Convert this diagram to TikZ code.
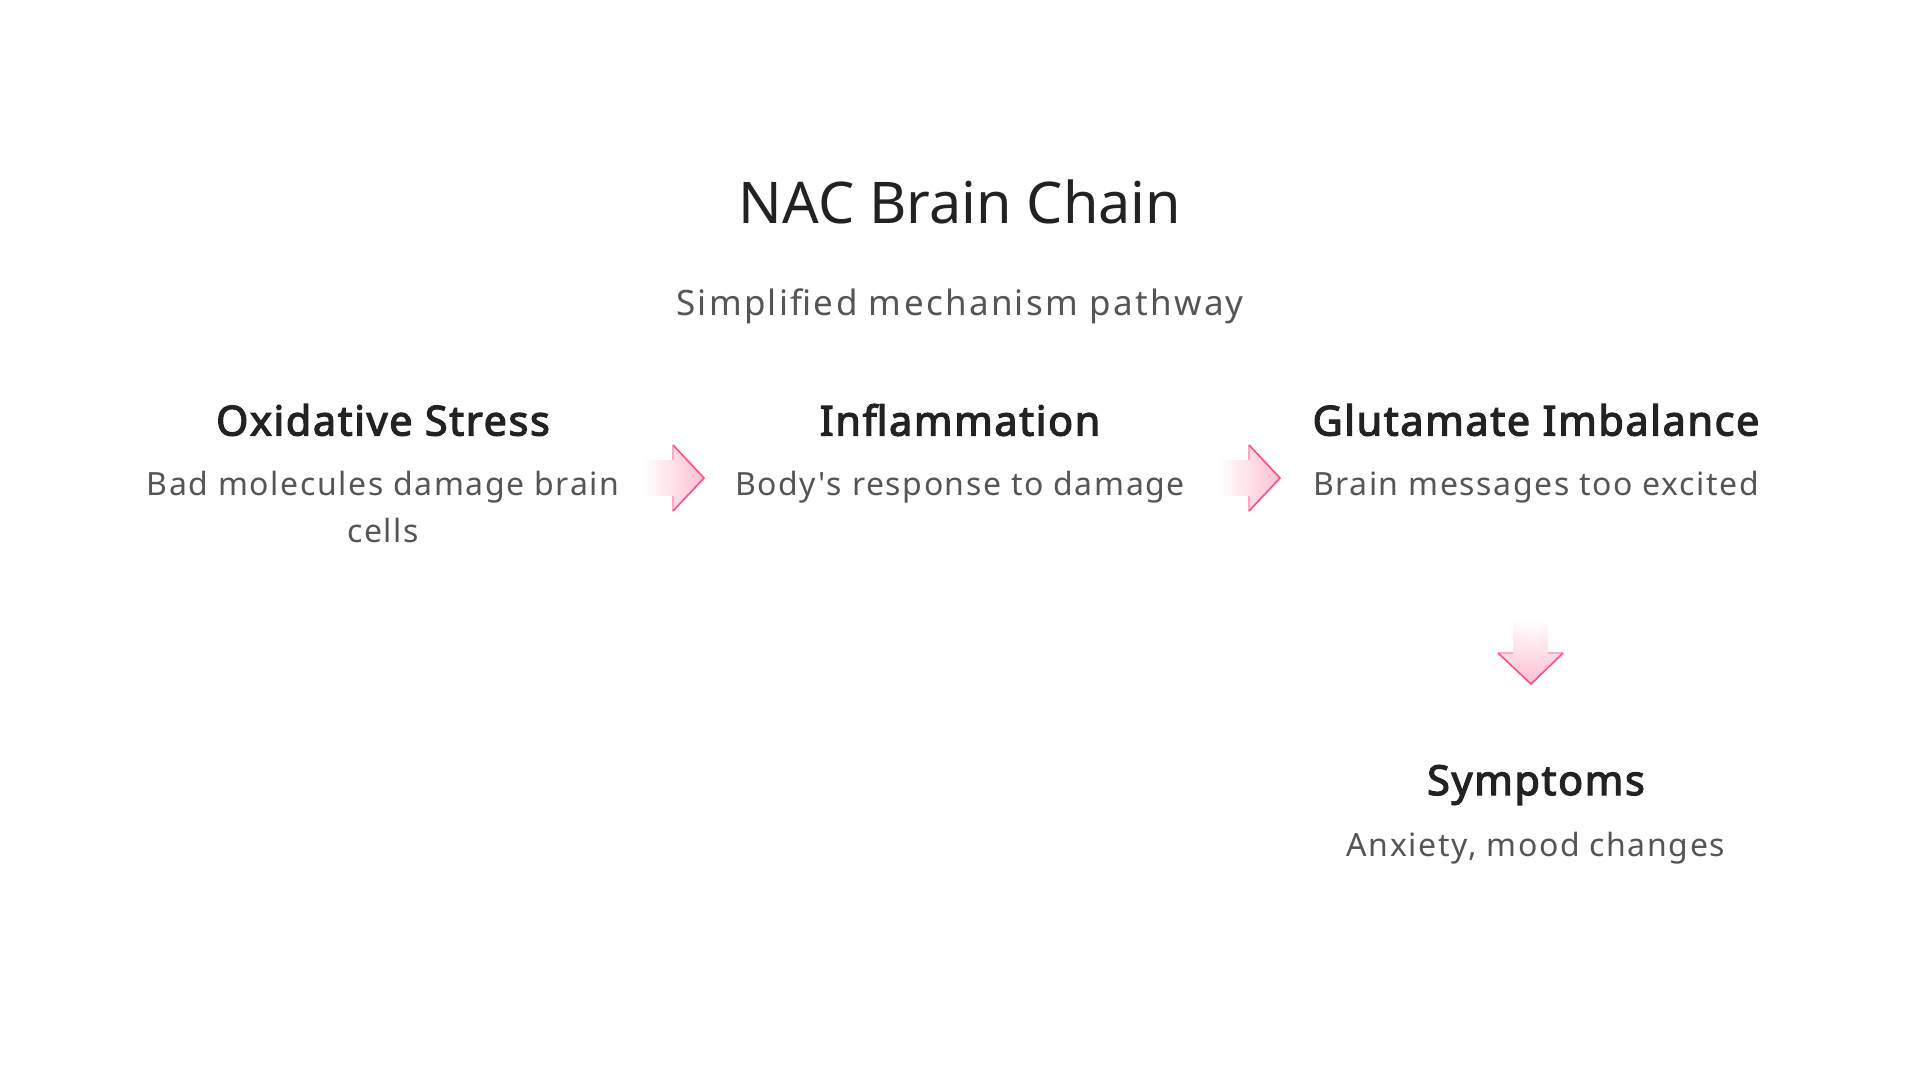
\documentclass[tikz,border=0pt]{standalone}
\usepackage{fontspec}
\setmainfont{Noto Sans}
\newfontfamily\subfont{Noto Sans}[LetterSpace=6.6]
\newfontfamily\descfont{Noto Sans}[LetterSpace=5]
\newfontfamily\headfont{Noto Sans}[FakeBold=3,LetterSpace=4]
\usetikzlibrary{calc}
\definecolor{headc}{HTML}{222222}
\definecolor{descc}{HTML}{555555}
\definecolor{arrfill}{HTML}{FFBFCF}
\definecolor{arredge}{HTML}{FF4F80}
\tikzset{
  x=1pt,y=1pt,
  titletxt/.style={inner sep=0pt,text=headc,font=\fontsize{57.5}{66}\selectfont},
  subtxt/.style={inner sep=0pt,text=descc,font=\subfont\fontsize{35}{40}\selectfont},
  headtxt/.style={inner sep=0pt,text=headc,font=\headfont\fontsize{41.3}{48}\selectfont},
  desctxt/.style={inner sep=0pt,text=descc,align=center,font=\descfont\fontsize{32}{47}\selectfont},
  arrshade/.style={left color=white,right color=arrfill,draw=none},
  arrshadev/.style={top color=white,bottom color=arrfill,draw=none},
  arredgeln/.style={draw=arredge,line width=1.6pt,line join=miter},
}
\newcommand{\rarrow}[1]{%
  \path[arrshade] ($(#1)+(-61,-18)$) -- ($(#1)+(-31,-18)$) -- ($(#1)+(-31,-33)$) -- (#1)
     -- ($(#1)+(-31,33)$) -- ($(#1)+(-31,18)$) -- ($(#1)+(-61,18)$) -- cycle;
  \draw[draw=arrfill!80!arredge,line width=1.2pt] ($(#1)+(-31,-18)$) -- ($(#1)+(-31,-33)$);
  \draw[draw=arrfill!80!arredge,line width=1.2pt] ($(#1)+(-31,18)$) -- ($(#1)+(-31,33)$);
  \draw[arredgeln] ($(#1)+(-31,-33)$) -- (#1) -- ($(#1)+(-31,33)$);
}
\begin{document}
\begin{tikzpicture}
\useasboundingbox[fill=white] (0,0) rectangle (1920,-1080);
\node[titletxt] (title) at (960,-202) {NAC Brain Chain};
\node[subtxt] (sub) at (960,-306) {Simplified mechanism pathway};

\node[headtxt] (h1) at (383,-420) {Oxidative Stress};
\node[desctxt,anchor=north] (d1) at (383,-471) {Bad molecules damage brain\\cells};
\node[headtxt] (h2) at (960,-420) {Inflammation};
\node[desctxt,anchor=north] (d2) at (960,-471) {Body's response to damage};
\node[headtxt] (h3) at (1536,-420) {Glutamate Imbalance};
\node[desctxt,anchor=north] (d3) at (1536,-471) {Brain messages too excited};
\node[headtxt] (h4) at (1536,-785) {Symptoms};
\node[desctxt,anchor=north] (d4) at (1536,-832) {Anxiety, mood changes};

\coordinate (t1) at (704,-478);
\coordinate (t2) at (1280,-478);
\coordinate (t3) at (1531,-684);
\rarrow{t1}
\rarrow{t2}
\path[arrshadev] ($(t3)+(-18,64)$) -- ($(t3)+(17,64)$) -- ($(t3)+(17,31)$) -- ($(t3)+(32,31)$) -- (t3)
   -- ($(t3)+(-33,31)$) -- ($(t3)+(-18,31)$) -- cycle;
\draw[draw=arrfill!80!arredge,line width=1.2pt] ($(t3)+(17,31)$) -- ($(t3)+(32,31)$);
\draw[draw=arrfill!80!arredge,line width=1.2pt] ($(t3)+(-18,31)$) -- ($(t3)+(-33,31)$);
\draw[arredgeln] ($(t3)+(32,31)$) -- (t3) -- ($(t3)+(-33,31)$);
\end{tikzpicture}
\end{document}
